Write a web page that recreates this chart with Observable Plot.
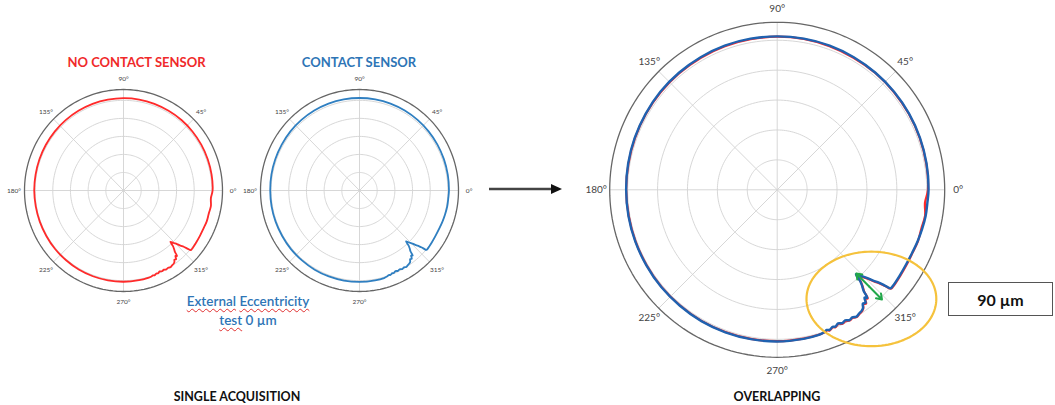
<!DOCTYPE html>
<html><head><meta charset="utf-8">
<script src="https://cdn.jsdelivr.net/npm/d3@7"></script>
<script src="https://cdn.jsdelivr.net/npm/@observablehq/plot@0.6"></script>
<style>
html,body{margin:0;padding:0;background:#fff;}
#root{position:relative;width:1055px;height:405px;overflow:hidden;font-family:Lato,"Open Sans",sans-serif;}
.abs{position:absolute;white-space:nowrap;}
.c{transform:translate(-50%,-50%);}
.title{font-weight:700;font-size:13px;}
.foot{font-weight:700;font-size:12.5px;color:#111;}
.note{font-size:13.5px;font-weight:600;color:#2e75b6;text-align:center;line-height:19px;}
.note span{text-decoration:underline wavy #e03030;text-decoration-thickness:1px;text-underline-offset:2px;}
.box{border:1px solid #555;font-weight:700;font-size:16px;color:#111;display:flex;align-items:center;justify-content:center;box-sizing:border-box;}
</style></head><body><div id="root"></div>
<script>
// ---- data (angles in degrees, radius in chart units) ----
const angles = [0,10,20,30,40,50,60,70,80,90,100,110,120,130,140,150,160,170,180,190,200,210,220,230,240,250,260,270,280,286,288,289.5,290.5,292,293,294.5,296,297.5,299,300.5,302,303.5,305,306,307,308,309,309.8,310.5,311.5,312.3,313,314.2,315.5,316.5,317.5,318.3,319,320,325,330,335,340,345,350,355];
const contact = [5.06,5.07,5.08,5.09,5.10,5.11,5.12,5.13,5.13,5.13,5.13,5.13,5.12,5.11,5.10,5.08,5.07,5.06,5.05,5.05,5.05,5.05,5.06,5.06,5.07,5.07,5.07,5.07,5.06,5.05,5.02,4.97,5.00,4.94,4.97,4.91,4.96,4.92,4.98,4.95,5.00,4.96,4.93,4.88,4.76,4.80,4.64,4.70,4.45,4.28,4.12,3.86,4.02,4.20,4.40,4.58,4.80,5.02,5.03,5.00,4.98,4.98,5.00,5.02,5.04,5.04];
const noContact = [5.04,5.06,5.07,5.08,5.09,5.10,5.10,5.11,5.12,5.12,5.11,5.11,5.10,5.09,5.08,5.07,5.06,5.05,5.05,5.04,5.04,5.04,5.05,5.05,5.06,5.06,5.06,5.06,5.05,5.04,5.03,4.99,5.02,4.96,4.99,4.93,4.98,4.95,5.00,4.97,5.02,4.98,4.95,4.90,4.79,4.83,4.67,4.73,4.48,4.31,4.15,3.89,4.06,4.24,4.44,4.62,4.84,5.04,5.05,5.02,5.00,4.99,5.01,4.99,5.02,4.96];
const ringTicks = [1,2,3,4,5];
const outerR = 5.6;
const angleTicks = [0,45,90,135,180,225,270,315];
const angleLabels = ["0°","45°","90°","135°","180°","225°","270°","315°"];
const gapArrow = [{r:3.85, a:313.4},{r:5.07, a:313.7}];
const highlight = {r:4.82, a:310.8, rx:2.17, ry:1.58};

const rad = d => d*Math.PI/180;
const px = (r,a) => r*Math.cos(rad(a));
const py = (r,a) => r*Math.sin(rad(a));

function pts(vals){ return angles.map((a,i)=>({a, r: vals[i]})); }
function circlePts(r){ return d3.range(0, 360, 2).map(a=>({ring:r, a, r})); }

function polar({cx, cy, rx, ry, width, height, series, labelR, labelSize, lw, extra=[]}){
  const rings = ringTicks.flatMap(circlePts);
  const marks = [
    Plot.line(rings, {x: d=>px(d.r,d.a), y: d=>py(d.r,d.a), z:"ring", stroke:"#d2d2d2", strokeWidth:0.9, curve:"linear-closed"}),
    Plot.link(angleTicks, {x1: d=>0, y1: d=>0, x2: d=>px(outerR,d), y2: d=>py(outerR,d), stroke:"#d2d2d2", strokeWidth:0.9}),
    Plot.line(circlePts(outerR), {x: d=>px(d.r,d.a), y: d=>py(d.r,d.a), stroke:"#666", strokeWidth:1.3, curve:"linear-closed"}),
    ...series.map(s => Plot.line(pts(s.vals), {x: d=>px(d.r,d.a), y: d=>py(d.r,d.a), stroke:s.color, strokeWidth:s.w ?? lw, curve:"catmull-rom-closed"})),
    Plot.text(angleTicks, {x: d=>px(labelR,d), y: d=>py(labelR,d), text:(d,i)=>angleLabels[i], fontSize:labelSize, fill:"#444", fontFamily:"Lato, sans-serif"}),
    ...extra
  ];
  return Plot.plot({
    width, height,
    x: {type:"linear", domain:[-outerR, outerR], range:[cx-rx, cx+rx], axis:null},
    y: {type:"linear", domain:[-outerR, outerR], range:[cy+ry, cy-ry], axis:null},
    style:{background:"transparent"},
    marks
  });
}

const root = document.getElementById("root");
function place(el, left, top){ el.style.position="absolute"; el.style.left=left+"px"; el.style.top=top+"px"; root.appendChild(el); return el; }
function text(html, cls, x, y){ const d=document.createElement("div"); d.className="abs c "+cls; d.innerHTML=html; d.style.left=x+"px"; d.style.top=y+"px"; root.appendChild(d); return d; }

// chart 1
place(polar({cx:123, cy:120, rx:99, ry:101, width:250, height:240, series:[{vals:noContact, color:"#ff2a2a"}], labelR:6.2, labelSize:6.5, lw:1.8}), 0, 70);
// chart 2
place(polar({cx:124, cy:120, rx:99, ry:101, width:250, height:240, series:[{vals:contact, color:"#2f7fc1"}], labelR:6.2, labelSize:6.5, lw:1.8}), 235, 70);

// overlap chart
const mid = {x:(px(gapArrow[0].r,gapArrow[0].a)+px(gapArrow[1].r,gapArrow[1].a))/2, y:(py(gapArrow[0].r,gapArrow[0].a)+py(gapArrow[1].r,gapArrow[1].a))/2};
const ex = [
  Plot.arrow(gapArrow, {x1:d=>mid.x, y1:d=>mid.y, x2:d=>px(d.r,d.a), y2:d=>py(d.r,d.a), stroke:"#22a84a", strokeWidth:2, headLength:8, headAngle:70}),
  Plot.line(d3.range(0,360,3), {x: t=>px(highlight.r,highlight.a)+highlight.rx*Math.cos(rad(t)), y: t=>py(highlight.r,highlight.a)+highlight.ry*Math.sin(rad(t)), stroke:"#f5c23c", strokeWidth:2.2, curve:"linear-closed"})
];
place(polar({cx:216.7, cy:189.3, rx:167.5, ry:167.5, width:410, height:400, series:[{vals:noContact, color:"#ff2a2a", w:2.2},{vals:contact, color:"#1f62b0", w:2.4}], labelR:6.05, labelSize:10, lw:2, extra:ex}), 560, 0);

// big arrow
const a = d3.create("svg").attr("width",90).attr("height",20);
a.append("line").attr("x1",2).attr("y1",10).attr("x2",68).attr("y2",10).attr("stroke","#444").attr("stroke-width",2.5);
a.append("polygon").attr("points","64,5 75,10 64,15").attr("fill","#111");
place(a.node(), 487, 179);

// texts
text("NO CONTACT SENSOR","title",136.5,62).style.color="#f02a2a";
text("CONTACT SENSOR","title",359,62).style.color="#2e75b6";
text("<span>External</span> <span>Eccentricity</span><br><span>test</span> 0 µm","note",248,311);
text("SINGLE ACQUISITION","foot",237,396);
text("OVERLAPPING","foot",777,396);
const b=document.createElement("div"); b.className="abs box"; b.textContent="90 µm";
b.style.left="948px"; b.style.top="282px"; b.style.width="105px"; b.style.height="34px"; root.appendChild(b);
</script></body></html>
